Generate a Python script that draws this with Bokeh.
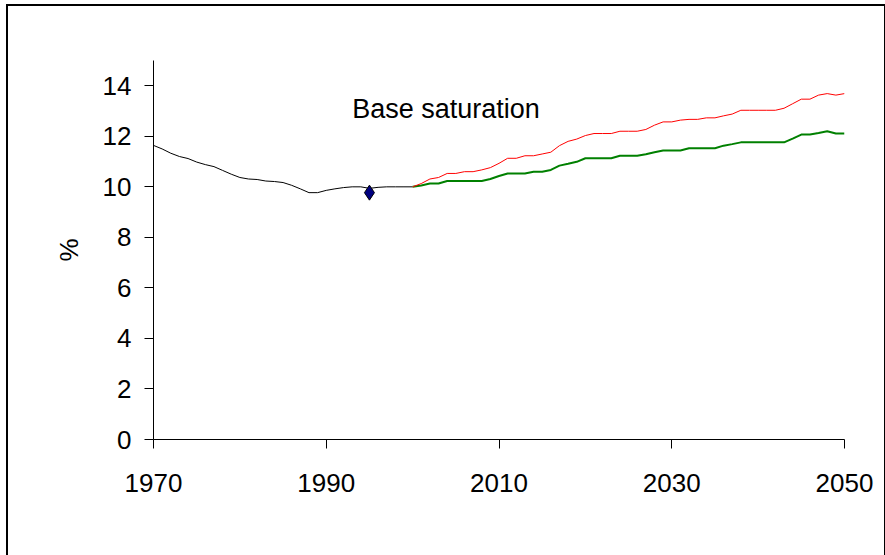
from bokeh.plotting import figure
from bokeh.models import Label, FixedTicker, Range1d
from bokeh.embed import file_html
from bokeh.resources import INLINE

hist_years = list(range(1969, 2001))
hist_values = [11.76, 11.64, 11.5, 11.33, 11.2, 11.12, 10.98, 10.88, 10.8, 10.65,
               10.5, 10.37, 10.31, 10.29, 10.23, 10.21, 10.17, 10.06, 9.92, 9.77,
               9.77, 9.86, 9.92, 9.97, 10.0, 10.0, 9.94, 9.98, 10.0, 10.0, 10.0, 10.0]

proj_years = list(range(2000, 2051))
red_values = [10.0, 10.13, 10.31, 10.37, 10.53, 10.53, 10.6, 10.6, 10.67, 10.76,
              10.93, 11.13, 11.13, 11.23, 11.23, 11.3, 11.37, 11.63, 11.8, 11.89,
              12.03, 12.11, 12.11, 12.11, 12.2, 12.2, 12.2, 12.27, 12.44, 12.57,
              12.57, 12.64, 12.67, 12.67, 12.73, 12.73, 12.81, 12.88, 13.03, 13.03,
              13.03, 13.03, 13.03, 13.11, 13.29, 13.47, 13.47, 13.63, 13.69, 13.63,
              13.69]
green_values = [10.0, 10.05, 10.13, 10.13, 10.23, 10.23, 10.23, 10.23, 10.23, 10.31,
                10.43, 10.53, 10.53, 10.53, 10.6, 10.6, 10.67, 10.84, 10.91, 10.99,
                11.13, 11.13, 11.13, 11.13, 11.23, 11.23, 11.23, 11.29, 11.37, 11.44,
                11.44, 11.44, 11.53, 11.53, 11.53, 11.53, 11.63, 11.69, 11.76, 11.76,
                11.76, 11.76, 11.76, 11.76, 11.91, 12.07, 12.07, 12.13, 12.2, 12.11,
                12.11]

obs_year = [1995]
obs_value = [9.77]

x_ticks = [1970, 1990, 2010, 2030, 2050]
y_ticks = [0, 2, 4, 6, 8, 10, 12, 14]
title_text = "Base saturation"
y_label = "%"

FONT = "Liberation Sans"

p = figure(width=880, height=560, output_backend="svg", toolbar_location=None,
           x_range=Range1d(1970, 2050), y_range=Range1d(0, 15),
           min_border_left=145, min_border_right=44, min_border_top=54,
           min_border_bottom=127)
p.margin = (4, 0, 0, 6)
p.styles = {"border": "2px solid black"}
p.outline_line_color = None
p.xgrid.visible = False
p.ygrid.visible = False
p.background_fill_color = "white"
p.border_fill_color = "white"

p.xaxis.ticker = FixedTicker(ticks=x_ticks)
p.yaxis.ticker = FixedTicker(ticks=y_ticks)
for ax in (p.xaxis, p.yaxis):
    ax.major_label_text_font = FONT
    ax.major_label_text_font_size = "26px"
    ax.major_label_text_color = "black"
    ax.axis_line_color = "black"
    ax.major_tick_line_color = "black"
    ax.major_tick_in = 0
    ax.major_tick_out = 9
    ax.minor_tick_in = 0
    ax.minor_tick_out = 0
p.xaxis.major_label_standoff = 25
p.yaxis.major_label_standoff = 13
p.yaxis.axis_label = y_label
p.yaxis.axis_label_text_font = FONT
p.yaxis.axis_label_text_font_size = "26px"
p.yaxis.axis_label_text_font_style = "normal"
p.yaxis.axis_label_text_color = "black"
p.yaxis.axis_label_standoff = 16

p.line(hist_years, hist_values, line_color="black", line_width=1)
p.line(proj_years, green_values, line_color="#008000", line_width=2)
p.line(proj_years, red_values, line_color="#FF0000", line_width=1)
p.scatter(obs_year, obs_value, marker="diamond", size=15, fill_color="#000080",
          line_color="black", line_width=1)

p.add_layout(Label(x=1993, y=13.07, text=title_text, text_font=FONT,
                   text_font_size="27px", text_color="black",
                   text_baseline="alphabetic"))

open("out.html", "w").write(file_html(p, INLINE))
